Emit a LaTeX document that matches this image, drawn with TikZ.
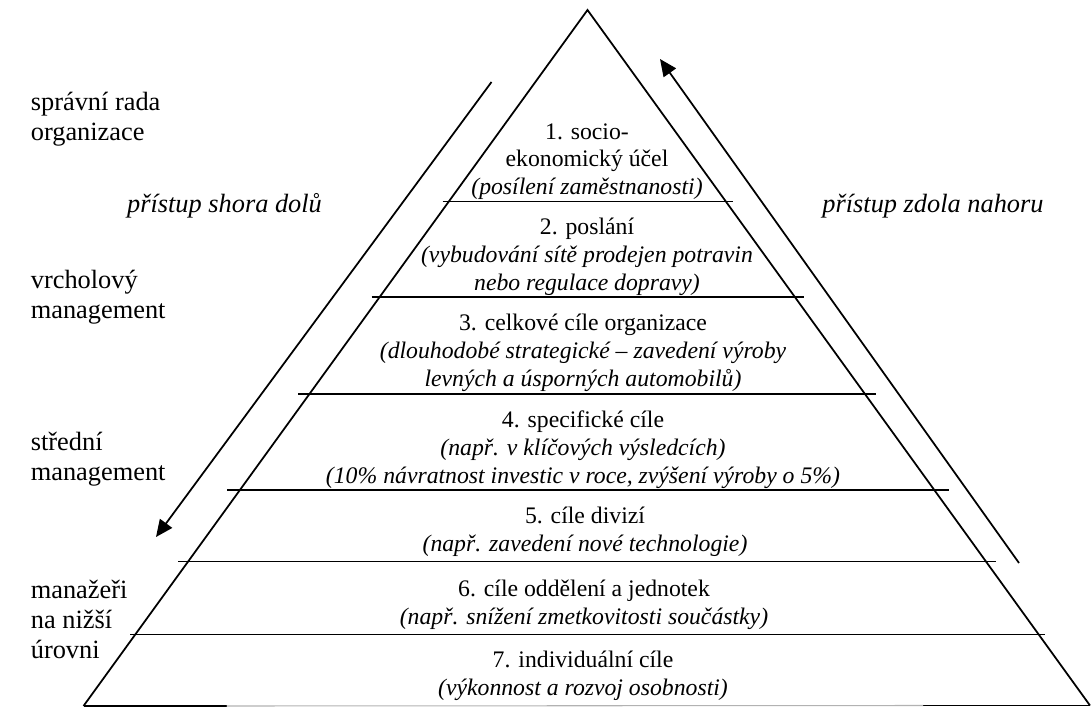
\documentclass[tikz,border=0pt]{standalone}
\usepackage{fontspec}
\setmainfont{Liberation Serif}
\usetikzlibrary{arrows.meta}

\begin{document}
\begin{tikzpicture}[
  level/.style={font=\fontsize{13.5}{15.8}\selectfont,align=center,inner sep=0pt},
  who/.style={font=\fontsize{15}{17}\selectfont,align=left,anchor=west,inner sep=0pt},
  way/.style={font=\fontsize{15}{17}\selectfont\itshape,inner sep=0pt},
  edge/.style={line width=1pt},
  flow/.style={line width=1pt,-{Triangle[length=0.34cm,width=0.3cm]}}
]
\useasboundingbox (0,0) rectangle (21.82,14.16);

\coordinate (T) at (11.75,13.96);
\coordinate (BL) at (1.67,0.04);
\coordinate (BR) at (21.80,0.05);
\draw[edge] (BL) -- (T) -- (BR);
\draw[edge] (BL) -- (4.53,0.04);
\draw[edge] (18.46,0.05) -- (BR);
\draw[gray!60,line width=0.6pt] (4.53,0.04) -- (18.46,0.05);

\foreach \y/\l/\r in {10.13/8.85/14.65,8.22/7.43/16.08,6.28/5.96/17.51,4.36/4.54/18.97,2.93/3.56/19.92,1.47/2.60/20.90} {
  \draw[edge] (\l,\y) -- (\r,\y);
}

\node[level] (L1) at (11.74,10.93) {1. socio-\\ekonomický účel\\\textit{(posílení zaměstnanosti)}};
\node[level] (L2) at (11.74,9.02) {2. poslání\\\textit{(vybudování sítě prodejen potravin}\\\textit{nebo regulace dopravy)}};
\node[level] (L3) at (11.66,7.10) {3. celkové cíle organizace\\\textit{(dlouhodobé strategické -- zavedení výroby}\\\textit{levných a úsporných automobilů)}};
\node[level] (L4) at (11.66,5.17) {4. specifické cíle\\\textit{(např. v klíčových výsledcích)}\\\textit{(10\% návratnost investic v roce, zvýšení výroby o 5\%)}};
\node[level] (L5) at (11.70,3.53) {5. cíle divizí\\\textit{(např. zavedení nové technologie)}};
\node[level] (L6) at (11.68,2.07) {6. cíle oddělení a jednotek\\\textit{(např. snížení zmetkovitosti součástky)}};
\node[level] (L7) at (11.66,0.65) {7. individuální cíle\\\textit{(výkonnost a rozvoj osobnosti)}};

\node[who] (board) at (0.61,11.78) {správní rada\\organizace};
\node[who] (top) at (0.61,8.22) {vrcholový\\management};
\node[who] (middle) at (0.61,4.98) {střední\\management};
\node[who] (lower) at (0.61,1.77) {manažeři\\na nižší\\úrovni};

\node[way] (down) at (4.49,10.05) {přístup shora dolů};
\node[way] (up) at (18.66,10.03) {přístup zdola nahoru};

\coordinate (d1) at (9.83,12.52);
\coordinate (d2) at (3.12,3.42);
\coordinate (u1) at (20.38,2.90);
\coordinate (u2) at (13.20,12.98);
\draw[flow] (d1) -- (d2);
\draw[flow] (u1) -- (u2);
\end{tikzpicture}
\end{document}
